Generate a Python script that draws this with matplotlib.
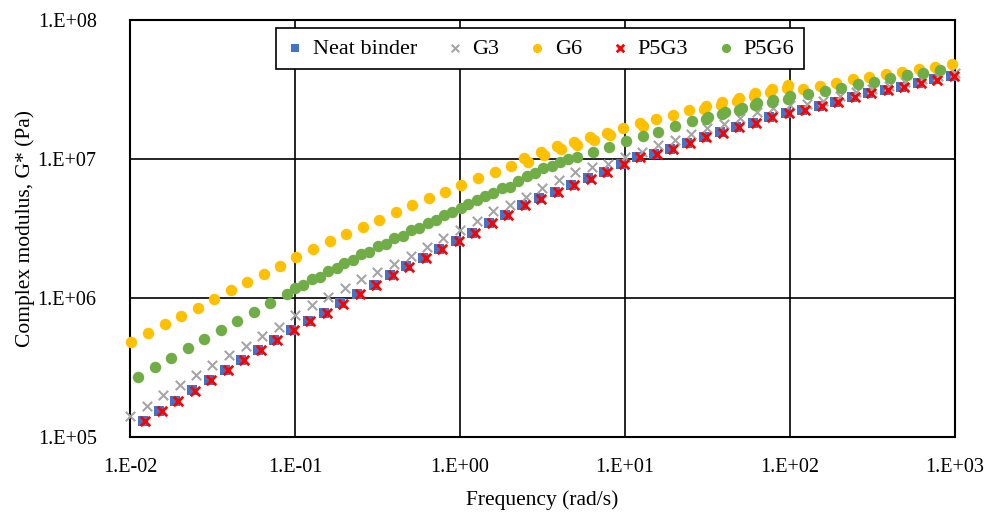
import math
import matplotlib
matplotlib.use("Agg")
import matplotlib.pyplot as plt
from matplotlib.ticker import FuncFormatter, LogLocator, NullLocator

plt.rcParams['font.family'] = ['Liberation Serif', 'DejaVu Serif']

# Neat binder
neat_freq = [0.0119, 0.0150, 0.0188, 0.0237, 0.0299, 0.0376, 0.0473, 0.0596, 0.0750, 0.0944,
             0.119, 0.150, 0.188, 0.237, 0.299, 0.376, 0.473, 0.596, 0.750, 0.944,
             1.19, 1.50, 1.88, 2.37, 2.99, 3.76, 4.73, 5.96, 7.50, 9.44,
             11.9, 15.0, 18.8, 23.7, 29.9, 37.6, 47.3, 59.6, 75.0, 94.4,
             119, 150, 188, 237, 299, 376, 473, 596, 750, 944]
neat_g = [1.30e5, 1.54e5, 1.82e5, 2.17e5, 2.57e5, 3.05e5, 3.58e5, 4.23e5, 4.97e5, 5.89e5,
          6.84e5, 7.85e5, 9.14e5, 1.07e6, 1.24e6, 1.47e6, 1.69e6, 1.95e6, 2.25e6, 2.57e6,
          2.95e6, 3.47e6, 3.98e6, 4.66e6, 5.21e6, 5.82e6, 6.50e6, 7.26e6, 8.11e6, 9.23e6,
          1.03e7, 1.09e7, 1.18e7, 1.31e7, 1.45e7, 1.56e7, 1.71e7, 1.82e7, 2.02e7, 2.14e7,
          2.26e7, 2.40e7, 2.58e7, 2.79e7, 2.98e7, 3.14e7, 3.32e7, 3.55e7, 3.74e7, 3.94e7]

# G3
g3_freq = [0.0100, 0.0126, 0.0158, 0.0200, 0.0251, 0.0316, 0.0398, 0.0501, 0.0631, 0.0794,
           0.100, 0.126, 0.158, 0.200, 0.251, 0.316, 0.398, 0.501, 0.631, 0.794,
           1.00, 1.26, 1.58, 2.00, 2.51, 3.16, 3.98, 5.01, 6.31, 7.94,
           10.0, 12.6, 15.8, 20.0, 25.1, 31.6, 39.8, 50.1, 63.1, 79.4,
           100, 126, 158, 200, 251, 316, 398, 501, 631, 794, 1000]
g3_g = [1.41e5, 1.68e5, 1.99e5, 2.36e5, 2.80e5, 3.29e5, 3.87e5, 4.54e5, 5.32e5, 6.18e5,
        7.50e5, 8.91e5, 1.02e6, 1.18e6, 1.36e6, 1.55e6, 1.77e6, 2.02e6, 2.32e6, 2.69e6,
        3.06e6, 3.59e6, 4.22e6, 4.66e6, 5.33e6, 6.17e6, 7.01e6, 8.11e6, 8.71e6, 9.27e6,
        1.04e7, 1.13e7, 1.26e7, 1.37e7, 1.51e7, 1.66e7, 1.80e7, 1.97e7, 2.17e7, 2.32e7,
        2.44e7, 2.48e7, 2.63e7, 2.82e7, 3.01e7, 3.18e7, 3.37e7, 3.57e7, 3.76e7, 3.96e7, 4.15e7]

# G6
g6_freq = [0.0102, 0.0129, 0.0162, 0.0204, 0.0257, 0.0324, 0.0407, 0.0513, 0.0646, 0.0813,
           0.102, 0.129, 0.162, 0.204, 0.257, 0.324, 0.407, 0.513, 0.646, 0.813,
           1.02, 1.29, 1.62, 2.04, 2.45, 3.09, 3.89, 4.90, 6.17, 7.76,
           9.77, 12.3, 15.5, 19.5, 24.5, 30.9, 38.9, 49.0, 61.7, 77.6,
           97.7, 120, 151, 191, 240, 302, 380, 479, 603, 759, 955,
           2.57, 3.24, 4.07, 5.13, 6.46, 8.13, 12.9, 30.2, 38.0, 47.9, 60.3, 75.9, 95.5]
g6_g = [4.85e5, 5.57e5, 6.47e5, 7.41e5, 8.51e5, 9.84e5, 1.14e6, 1.30e6, 1.50e6, 1.71e6,
        1.98e6, 2.25e6, 2.56e6, 2.88e6, 3.24e6, 3.66e6, 4.13e6, 4.65e6, 5.21e6, 5.82e6,
        6.50e6, 7.26e6, 8.11e6, 8.91e6, 1.01e7, 1.13e7, 1.24e7, 1.33e7, 1.45e7, 1.55e7,
        1.67e7, 1.81e7, 1.93e7, 2.07e7, 2.25e7, 2.40e7, 2.56e7, 2.76e7, 2.97e7, 3.17e7,
        3.40e7, 3.17e7, 3.35e7, 3.54e7, 3.74e7, 3.91e7, 4.09e7, 4.25e7, 4.42e7, 4.61e7, 4.80e7,
        9.55e6, 1.07e7, 1.19e7, 1.26e7, 1.38e7, 1.48e7, 1.74e7, 2.29e7, 2.45e7, 2.63e7, 2.82e7, 3.02e7, 3.24e7]

# P5G3
p5g3_freq = [0.0124, 0.0156, 0.0196, 0.0247, 0.0311, 0.0391, 0.0492, 0.0620, 0.0780, 0.0982,
             0.124, 0.156, 0.196, 0.247, 0.311, 0.391, 0.492, 0.620, 0.780, 0.982,
             1.24, 1.56, 1.96, 2.47, 3.11, 3.91, 4.92, 6.20, 7.80, 9.82,
             12.4, 15.6, 19.6, 24.7, 31.1, 39.1, 49.2, 62.0, 78.0, 98.2,
             124, 156, 196, 247, 311, 391, 492, 620, 780, 982]
p5g3_g = [1.31e5, 1.55e5, 1.83e5, 2.16e5, 2.56e5, 3.04e5, 3.57e5, 4.21e5, 4.95e5, 5.86e5,
          6.80e5, 7.81e5, 9.10e5, 1.06e6, 1.24e6, 1.46e6, 1.68e6, 1.94e6, 2.24e6, 2.56e6,
          2.94e6, 3.45e6, 3.96e6, 4.63e6, 5.18e6, 5.79e6, 6.47e6, 7.22e6, 8.07e6, 9.18e6,
          1.03e7, 1.09e7, 1.18e7, 1.30e7, 1.44e7, 1.55e7, 1.70e7, 1.81e7, 2.01e7, 2.13e7,
          2.25e7, 2.39e7, 2.57e7, 2.78e7, 2.97e7, 3.13e7, 3.31e7, 3.54e7, 3.73e7, 3.93e7]

# P5G6
p5g6_freq = [0.0112, 0.0141, 0.0178, 0.0224, 0.0282, 0.0355, 0.0447, 0.0562, 0.0708, 0.0891,
             0.100, 0.112, 0.126, 0.142, 0.159, 0.179, 0.199, 0.224, 0.251, 0.282,
             0.317, 0.356, 0.400, 0.450, 0.505, 0.566, 0.637, 0.713, 0.800, 0.897,
             1.01, 1.12, 1.26, 1.42, 1.59, 1.79, 2.01, 2.25, 2.54, 2.85,
             3.20, 3.60, 4.04, 4.53, 5.09, 6.43, 8.04, 10.1, 12.8, 15.9,
             20.1, 25.4, 32.0, 40.4, 50.9, 62.8, 79.3, 100, 129, 163,
             204, 257, 323, 404, 509, 643, 811,
             30.9, 38.9, 49.0, 61.7, 77.6, 97.7]
p5g6_g = [2.72e5, 3.19e5, 3.72e5, 4.35e5, 5.07e5, 5.89e5, 6.87e5, 7.93e5, 9.20e5, 1.07e6,
          1.19e6, 1.24e6, 1.37e6, 1.42e6, 1.57e6, 1.64e6, 1.79e6, 1.87e6, 2.06e6, 2.15e6,
          2.36e6, 2.46e6, 2.69e6, 2.81e6, 3.07e6, 3.21e6, 3.48e6, 3.64e6, 3.95e6, 4.18e6,
          4.42e6, 4.72e6, 5.07e6, 5.42e6, 5.73e6, 6.15e6, 6.32e6, 6.98e6, 7.55e6, 7.96e6,
          8.57e6, 8.91e6, 9.57e6, 9.95e6, 1.03e7, 1.12e7, 1.22e7, 1.34e7, 1.46e7, 1.57e7,
          1.73e7, 1.87e7, 2.01e7, 2.19e7, 2.32e7, 2.52e7, 2.65e7, 2.85e7, 2.94e7, 3.10e7,
          3.26e7, 3.44e7, 3.60e7, 3.81e7, 4.00e7, 4.18e7, 4.37e7,
          1.95e7, 2.11e7, 2.24e7, 2.43e7, 2.57e7, 2.69e7]

fig = plt.figure(figsize=(9.95, 5.21), dpi=100)
ax = fig.add_axes([0.1307, 0.1612, 0.8291, 0.8004])

ax.scatter(neat_freq, neat_g, marker='s', s=46, color='#4472C4', linewidths=0,
           label='Neat binder', zorder=3, clip_on=False)
ax.scatter(g3_freq, g3_g, marker='x', s=46, color='#A5A5A5', linewidths=1.5,
           label='G3', zorder=3, clip_on=False)
ax.scatter(g6_freq, g6_g, marker='o', s=68, color='#FFC000', linewidths=0,
           label='G6', zorder=3, clip_on=False)
ax.scatter(p5g3_freq, p5g3_g, marker='x', s=46, color='#FF0000', linewidths=2.0,
           label='P5G3', zorder=3, clip_on=False)
ax.scatter(p5g6_freq, p5g6_g, marker='o', s=68, color='#70AD47', linewidths=0,
           label='P5G6', zorder=3, clip_on=False)

ax.set_xscale('log')
ax.set_yscale('log')
ax.set_xlim(1e-2, 1e3)
ax.set_ylim(1e5, 1e8)

fmt = FuncFormatter(lambda v, pos: '1.E{:+03d}'.format(int(round(math.log10(v)))))
ax.xaxis.set_major_locator(LogLocator(base=10, numticks=10))
ax.yaxis.set_major_locator(LogLocator(base=10, numticks=10))
ax.xaxis.set_minor_locator(NullLocator())
ax.yaxis.set_minor_locator(NullLocator())
ax.xaxis.set_major_formatter(fmt)
ax.yaxis.set_major_formatter(fmt)
ax.tick_params(axis='both', length=0, labelsize=14.5)
ax.tick_params(axis='y', pad=24)
ax.tick_params(axis='x', pad=15)

ax.grid(True, which='major', color='black', linewidth=1.2, zorder=0)
ax.set_axisbelow(True)
for sp in ax.spines.values():
    sp.set_color('black')
    sp.set_linewidth(1.5)

ax.set_xlabel('Frequency (rad/s)', fontsize=15.5, labelpad=10)
ax.set_ylabel('Complex modulus, G* (Pa)', fontsize=15.5, labelpad=2)

leg = ax.legend(loc='center', bbox_to_anchor=(0.497, 0.932), ncol=5, fontsize=16,
                frameon=True, fancybox=False, edgecolor='black', framealpha=1,
                handletextpad=0.4, columnspacing=1.3, borderpad=0.45, handlelength=0.8,
                markerscale=0.8)
leg.get_frame().set_linewidth(1.2)

fig.savefig('out.png', dpi=100)
